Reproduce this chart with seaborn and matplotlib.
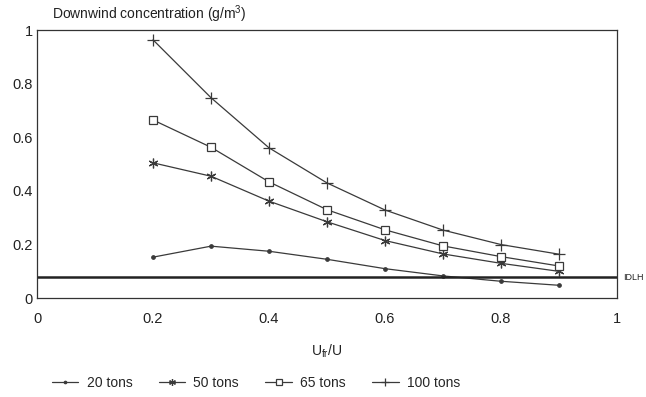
import numpy as np
import pandas as pd
import matplotlib
matplotlib.use('Agg')
import matplotlib.pyplot as plt
import seaborn as sns

# values
u_ratio = [0.2, 0.3, 0.4, 0.5, 0.6, 0.7, 0.8, 0.9]
tons_20 = [0.153, 0.194, 0.175, 0.145, 0.110, 0.083, 0.063, 0.048]
tons_50 = [0.505, 0.455, 0.362, 0.285, 0.215, 0.165, 0.130, 0.100]
tons_65 = [0.665, 0.563, 0.434, 0.330, 0.255, 0.195, 0.155, 0.120]
tons_100 = [0.964, 0.748, 0.561, 0.430, 0.329, 0.254, 0.200, 0.164]
series_names = ['20 tons', '50 tons', '65 tons', '100 tons']
idlh = 0.078

df = pd.DataFrame({'x': u_ratio * 4,
                   'y': tons_20 + tons_50 + tons_65 + tons_100,
                   'mass': np.repeat(series_names, len(u_ratio))})

sns.set_style('white')
plt.rcParams['font.family'] = ['Liberation Sans', 'DejaVu Sans']

fig = plt.figure(figsize=(6.46, 3.97), dpi=100)
ax = fig.add_axes([0.0573, 0.249, 0.8977, 0.675])

mk = {'20 tons': 'o', '50 tons': (6, 2, 0), '65 tons': 's', '100 tons': '+'}
msz = {'20 tons': 2.5, '50 tons': 7, '65 tons': 6, '100 tons': 8}
for name in series_names:
    sub = df[df['mass'] == name]
    sns.lineplot(data=sub, x='x', y='y', ax=ax, color='#3a3a3a', lw=0.9,
                 marker=mk[name], markersize=msz[name],
                 markerfacecolor='white' if name == '65 tons' else '#3a3a3a',
                 markeredgecolor='#3a3a3a', markeredgewidth=0.9, label=name)

ax.axhline(idlh, color='#222222', lw=1.8)
ax.text(1.01, idlh, 'IDLH', transform=ax.get_yaxis_transform(), va='center',
        ha='left', fontsize=6.5, color='#222222')

ax.set_xlim(0, 1)
ax.set_ylim(0, 1)
ax.set_xticks([0, 0.2, 0.4, 0.6, 0.8, 1])
ax.set_xticklabels(['0', '0.2', '0.4', '0.6', '0.8', '1'])
ax.set_yticks([0, 0.2, 0.4, 0.6, 0.8, 1])
ax.set_yticklabels(['0', '0.2', '0.4', '0.6', '0.8', '1'])
ax.tick_params(axis='x', direction='in', length=5, width=0.8, pad=10,
               labelsize=10.5, colors='#222222')
ax.tick_params(axis='y', length=0, pad=3, labelsize=10.5, colors='#222222')
for s in ax.spines.values():
    s.set_color('#333333')
    s.set_linewidth(0.9)

ax.set_xlabel('U$_{\\mathregular{fr}}$/U', fontsize=10, color='#222222', labelpad=12)
ax.set_ylabel('')
fig.text(0.08, 0.965, 'Downwind concentration (g/m$^{\\mathregular{3}}$)',
         fontsize=10, color='#222222', va='center', ha='left')

ax.legend(loc='center left', bbox_to_anchor=(0.004, -0.315), ncol=4,
          frameon=False, fontsize=10, handlelength=1.9, columnspacing=1.9,
          handletextpad=0.6, markerscale=0.7)

fig.savefig('out.png', dpi=100)
